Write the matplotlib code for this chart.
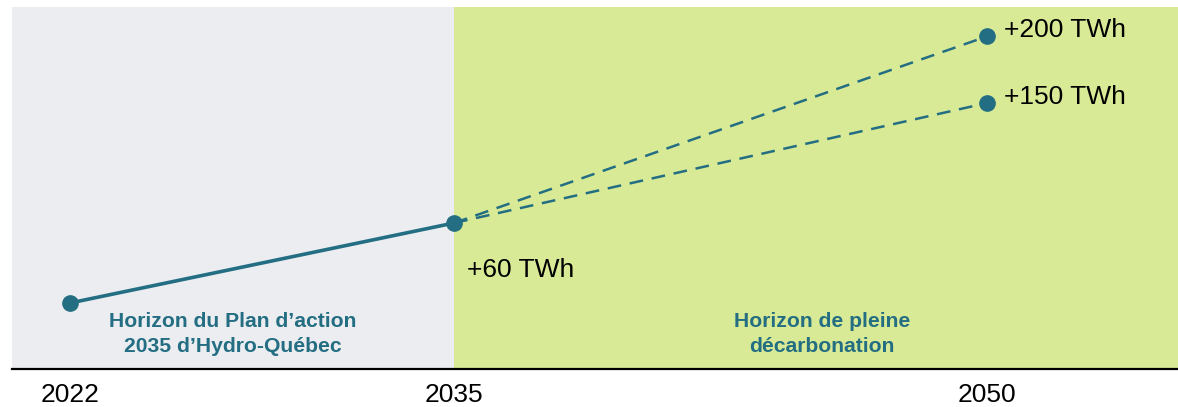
import matplotlib
matplotlib.use("Agg")
import matplotlib.pyplot as plt

years = ["2022", "2035", "2050"]
xpos = [0.0, 1.0, 2.388]          # layout positions of the year ticks
base_values = [0, 60]              # TWh increase, 2022 -> 2035
scenario_values = [150, 200]       # TWh increase by 2050
point_labels = ["+60 TWh", "+150 TWh", "+200 TWh"]
region_labels = ["Horizon du Plan d\u2019action\n2035 d\u2019Hydro-Qu\u00e9bec",
                 "Horizon de pleine\nd\u00e9carbonation"]

plt.rcParams['font.family'] = ['Liberation Sans', 'DejaVu Sans']
teal = "#236E82"
gray_bg = "#ECEDF1"
green_bg = "#D9EA96"

fig = plt.figure(figsize=(11.78, 4.07), dpi=100)
ax = fig.add_axes([12/1178, 1 - 369/407, 1 - 12/1178, (369 - 7)/407])
xmin, xmax = -0.151, 2.885
ymin, ymax = -49.5, 222.0
ax.set_xlim(xmin, xmax)
ax.set_ylim(ymin, ymax)

ax.axvspan(xmin, xpos[1], color=gray_bg, zorder=0, lw=0)
ax.axvspan(xpos[1], xmax, color=green_bg, zorder=0, lw=0)

# solid line to 2035
ax.plot(xpos[:2], base_values, color=teal, lw=2.6, zorder=3,
        marker='o', markersize=11, solid_capstyle='butt')
# dashed scenarios
for v in scenario_values:
    ax.plot([xpos[1], xpos[2]], [base_values[1], v], color=teal, lw=1.8,
            ls=(0, (5.5, 3.5)), zorder=2)
    ax.plot([xpos[2]], [v], 'o', color=teal, markersize=11, zorder=3)

ax.annotate(point_labels[0], (xpos[1], base_values[1]), xytext=(9, -33.5),
            textcoords='offset points', fontsize=19, va='center', ha='left')
for lab, v in zip(point_labels[1:], scenario_values):
    ax.annotate(lab, (xpos[2], v), xytext=(12.5, 4.5), textcoords='offset points',
                fontsize=19, va='center', ha='left')

ax.text((233 - 70) / 384, -23, region_labels[0], color=teal, fontsize=15.2,
        fontweight='bold', ha='center', va='center', linespacing=1.42)
ax.text((822 - 70) / 384, -23, region_labels[1], color=teal, fontsize=15.2,
        fontweight='bold', ha='center', va='center', linespacing=1.42)

for s in ['top', 'right', 'left']:
    ax.spines[s].set_visible(False)
ax.spines['bottom'].set_color('black')
ax.spines['bottom'].set_linewidth(1.6)
ax.set_yticks([])
ax.set_xticks(xpos)
ax.set_xticklabels(years, fontsize=19)
ax.tick_params(axis='x', length=0, pad=10)

fig.savefig("out.png", dpi=100)
